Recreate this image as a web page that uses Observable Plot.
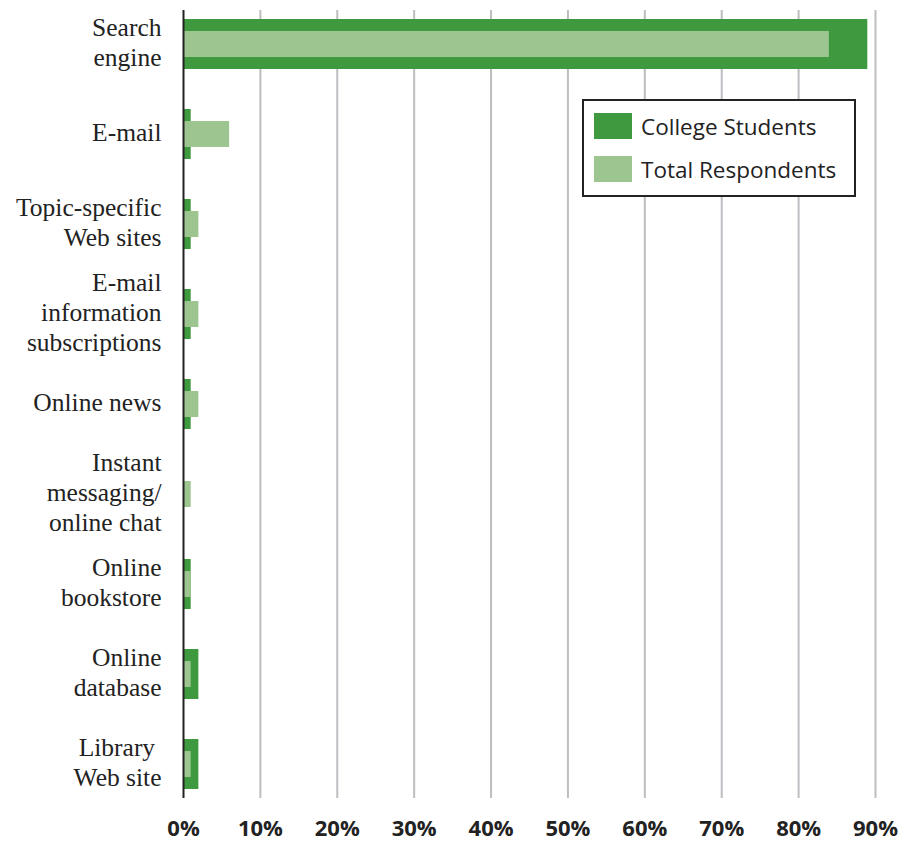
<!DOCTYPE html>
<html>
<head>
<meta charset="utf-8">
<script src="https://cdn.jsdelivr.net/npm/d3@7"></script>
<script src="https://cdn.jsdelivr.net/npm/@observablehq/plot@0.6"></script>
<style>
  html, body { margin: 0; padding: 0; background: #fff; }
  #wrap { position: relative; width: 904px; height: 847px; }
  #legend {
    position: absolute; left: 582px; top: 99px; width: 270px; height: 94px;
    border: 2px solid #222; background: #fff; box-sizing: content-box;
    font-family: "Open Sans", sans-serif; font-size: 22.5px; color: #222;
  }
  .item { position: absolute; left: 10px; display: flex; align-items: center; height: 28px; }
  .sw { width: 38px; height: 26px; margin-right: 9px; flex: none; }
  g[aria-label="y-axis tick label"] text { font-family: "Liberation Serif", "DejaVu Serif", serif; }
  g[aria-label="x-axis tick label"] text { font-family: "Open Sans", sans-serif; font-weight: bold; }
</style>
</head>
<body>
<div id="wrap"></div>
<script>
const categories = [
  "Search\nengine",
  "E-mail",
  "Topic-specific\nWeb sites",
  "E-mail\ninformation\nsubscriptions",
  "Online news",
  "Instant\nmessaging/\nonline chat",
  "Online\nbookstore",
  "Online\ndatabase",
  "Library \nWeb site"
];
const collegeStudents = [89, 1, 1, 1, 1, 0, 1, 2, 2];
const totalRespondents = [84, 6, 2, 2, 2, 1, 1, 1, 1];
const seriesNames = ["College Students", "Total Respondents"];
const seriesColors = ["#3f9a3f", "#9dc58f"];
const xTicks = [0, 10, 20, 30, 40, 50, 60, 70, 80, 90];

const college = categories.map((c, i) => ({category: c, value: collegeStudents[i]}));
const total = categories.map((c, i) => ({category: c, value: totalRespondents[i]}));

const chart = Plot.plot({
  width: 904,
  height: 847,
  marginLeft: 183,
  marginRight: 29,
  marginTop: 10,
  marginBottom: 49,
  style: {fontSize: "21px", background: "#fff", color: "#222"},
  x: {domain: [0, 90], ticks: xTicks, tickFormat: d => d + "%", label: null},
  y: {domain: categories, paddingInner: 0.45, paddingOuter: 0.07, label: null},
  marks: [
    Plot.ruleX(xTicks.filter(d => d > 0), {stroke: "#bdbdc2", strokeWidth: 2}),
    Plot.barX(college, {x: "value", y: "category", fill: seriesColors[0]}),
    Plot.barX(total, {x: "value", y: "category", fill: seriesColors[1], insetTop: 12, insetBottom: 12}),
    Plot.ruleX([0], {stroke: "#222", strokeWidth: 2}),
    Plot.axisY({tickSize: 0, tickPadding: 22, fontSize: 25.5, lineHeight: 1.16, dy: -3, label: null}),
    Plot.axisX({ticks: xTicks, tickFormat: d => d + "%", tickSize: 0, tickPadding: 22, fontSize: 22, fontWeight: "bold", label: null})
  ]
});

const wrap = document.getElementById("wrap");
wrap.appendChild(chart);

const legend = document.createElement("div");
legend.id = "legend";
seriesNames.forEach((name, i) => {
  const item = document.createElement("div");
  item.className = "item";
  item.style.top = (i === 0 ? 11 : 54) + "px";
  const sw = document.createElement("div");
  sw.className = "sw";
  sw.style.background = seriesColors[i];
  const label = document.createElement("span");
  label.textContent = name;
  item.appendChild(sw);
  item.appendChild(label);
  legend.appendChild(item);
});
wrap.appendChild(legend);
</script>
</body>
</html>
